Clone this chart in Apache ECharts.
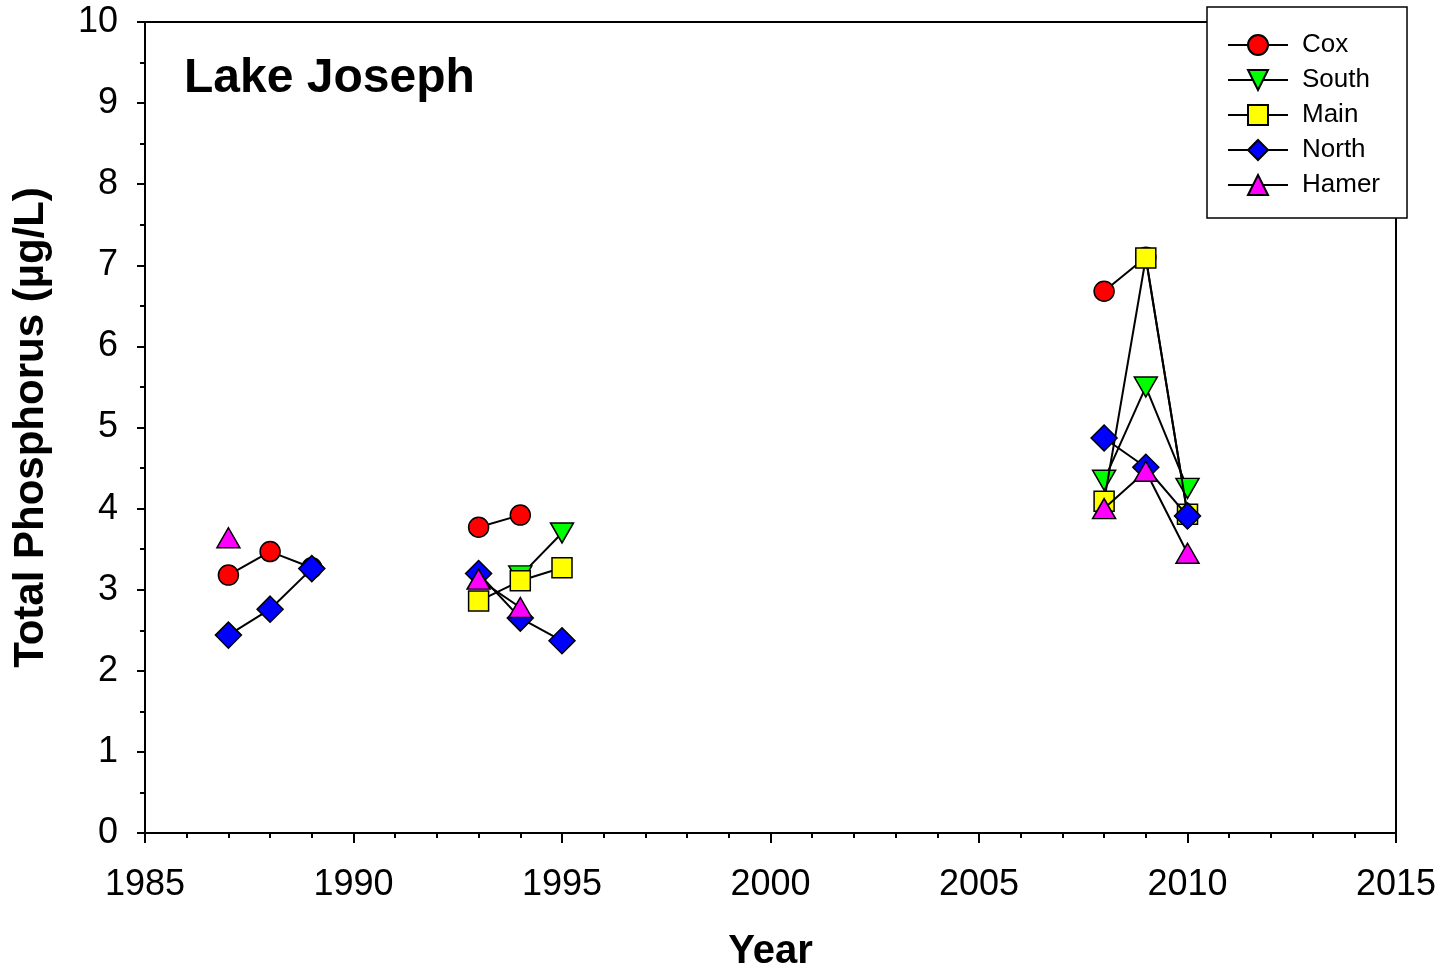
<!DOCTYPE html>
<html><head><meta charset="utf-8">
<script src="https://cdn.jsdelivr.net/npm/echarts@6/dist/echarts.min.js"></script>
<style>html,body{margin:0;padding:0;background:#fff}#c{width:1447px;height:971px}</style>
</head><body><div id="c"></div>
<script>
const years = [1987, 1988, 1989, 1993, 1994, 1995, 2008, 2009, 2010];
const cox   = [3.18, 3.47, 3.27, 3.77, 3.92, null, 6.68, 7.10, 3.93];
const south = [null, null, null, null, 3.17, 3.70, 4.35, 5.50, 4.25];
const mainS = [null, null, null, 2.86, 3.11, 3.27, 4.09, 7.09, 3.93];
const north = [2.44, 2.76, 3.26, 3.20, 2.65, 2.37, 4.87, 4.51, 3.91];
const hamer = [3.64, null, null, 3.13, 2.78, null, 4.00, 4.46, 3.45];
const seriesNames = ['Cox', 'South', 'Main', 'North', 'Hamer'];
const seriesValues = [cox, south, mainS, north, hamer];
const titleText = 'Lake Joseph';
const xName = 'Year';
const yName = 'Total Phosphorus (\u00b5g/L)';

const FONT = '"Liberation Sans", Arial, sans-serif';
const styles = [
  {symbol: 'circle', size: 20, color: '#ff0000'},
  {symbol: 'path://M0,0L2,0L1,2Z', size: [23, 20], color: '#00ff00'},
  {symbol: 'rect', size: 20, color: '#ffff00'},
  {symbol: 'diamond', size: 26, color: '#0000ff'},
  {symbol: 'triangle', size: [23, 20], color: '#ff00ff'}
];

function toData(vals) {
  const out = [];
  for (let i = 0; i < years.length; i++) {
    if (i > 0 && years[i] - years[i - 1] > 1) out.push([years[i - 1] + 1, '-']);
    out.push([years[i], vals[i] == null ? '-' : vals[i]]);
  }
  return out;
}

const series = seriesNames.map((name, k) => ({
  name: name,
  type: 'line',
  data: toData(seriesValues[k]),
  symbol: styles[k].symbol,
  symbolSize: styles[k].size,
  showAllSymbol: true,
  connectNulls: false,
  itemStyle: {color: styles[k].color, borderColor: '#000', borderWidth: 1.5},
  lineStyle: {color: '#000', width: 2},
  emphasis: {disabled: true},
  z: 2 + k
}));

const chart = echarts.init(document.getElementById('c'), null, {renderer: 'canvas'});
chart.setOption({
  animation: false,
  backgroundColor: '#fff',
  title: {
    text: titleText, left: 184, top: 55, padding: 0,
    textStyle: {fontSize: 48, fontWeight: 'bold', color: '#000', fontFamily: FONT}
  },
  legend: {
    orient: 'vertical', left: 1207, top: 7,
    itemWidth: 60, itemHeight: 25, itemGap: 9,
    padding: [25, 27, 20, 20],
    backgroundColor: '#fff', borderColor: '#000', borderWidth: 1.5,
    textStyle: {fontFamily: FONT, fontSize: 26, color: '#000', padding: [0, 0, 0, 9], lineHeight: 25},
    data: seriesNames,
    z: 20
  },
  grid: {
    left: 145, right: 51, top: 22, bottom: 138,
    outerBoundsMode: 'none',
    show: true, borderColor: '#000', borderWidth: 2, backgroundColor: 'transparent'
  },
  xAxis: {
    type: 'value', min: 1985, max: 2015, interval: 5,
    axisLine: {show: true, onZero: false, lineStyle: {color: '#000', width: 2}},
    axisTick: {show: true, length: 10, inside: false, lineStyle: {color: '#000', width: 2}},
    minorTick: {show: true, splitNumber: 5, length: 5, lineStyle: {color: '#000', width: 2}},
    splitLine: {show: false},
    minorSplitLine: {show: false},
    axisLabel: {fontSize: 36, color: '#000', margin: 34, fontFamily: FONT, formatter: v => String(v)},
    name: xName, nameLocation: 'middle', nameGap: 99,
    nameTextStyle: {fontSize: 40, fontWeight: 'bold', color: '#000', fontFamily: FONT}
  },
  yAxis: {
    type: 'value', min: 0, max: 10, interval: 1,
    axisLine: {show: true, onZero: false, lineStyle: {color: '#000', width: 2}},
    axisTick: {show: true, length: 8, inside: false, lineStyle: {color: '#000', width: 2}},
    minorTick: {show: true, splitNumber: 2, length: 5, lineStyle: {color: '#000', width: 2}},
    splitLine: {show: false},
    minorSplitLine: {show: false},
    axisLabel: {fontSize: 36, color: '#000', margin: 27, fontFamily: FONT},
    name: yName, nameLocation: 'middle', nameGap: 93,
    nameTextStyle: {fontSize: 42, fontWeight: 'bold', color: '#000', fontFamily: FONT}
  },
  series: series
});
</script>
</body></html>
